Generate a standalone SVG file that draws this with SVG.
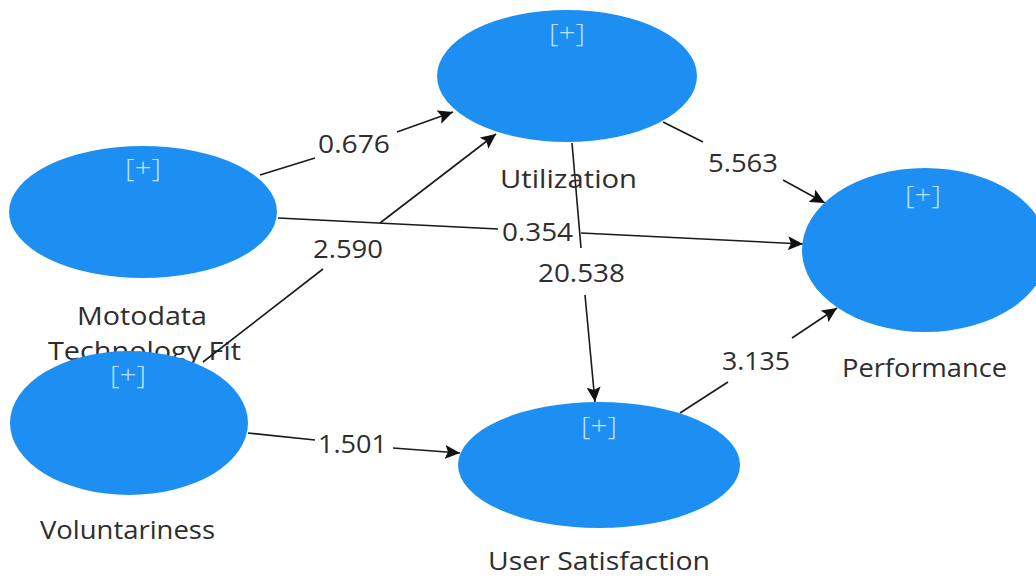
<svg xmlns="http://www.w3.org/2000/svg" width="1036" height="578" viewBox="0 0 1036 578">
<defs>
<style>
.node{fill:#1e8ff2;}
.plus{font-family:"Open Sans","Noto Sans",sans-serif;font-size:25px;fill:#b8e4ff;text-anchor:middle;font-weight:300;}
.lbl{font-family:"Open Sans","Noto Sans",sans-serif;font-size:25px;fill:#2e2e2e;text-anchor:middle;}
.num{font-family:"Open Sans","Noto Sans",sans-serif;font-size:26px;fill:#2e2e2e;text-anchor:middle;}
.ln{stroke:#1a1a1a;stroke-width:1.6;fill:none;}
</style>
<marker id="arr" markerUnits="userSpaceOnUse" markerWidth="16" markerHeight="14" refX="15" refY="7" orient="auto">
<path d="M0,0 L15,7 L0,14 L3,7 Z" fill="#111111"/>
</marker>
</defs>
<rect width="1036" height="578" fill="#ffffff"/>
<g id="node-motodata">
<ellipse class="node" cx="143" cy="212" rx="134" ry="66"/>
<text class="plus" x="143" y="177" textLength="36" lengthAdjust="spacingAndGlyphs">[+]</text>
<text class="lbl" x="142" y="325" textLength="130" lengthAdjust="spacingAndGlyphs">Motodata</text>
<text class="lbl" x="144.5" y="360" textLength="193" lengthAdjust="spacingAndGlyphs">Technology Fit</text>
</g>
<g id="connectors">
<path class="ln" d="M260,175 L315,158"/>
<path class="ln" d="M397,132 L453,112" marker-end="url(#arr)"/>
<text class="num" x="354" y="153" textLength="72" lengthAdjust="spacingAndGlyphs">0.676</text>
<path class="ln" d="M278,218 L498,229"/>
<path class="ln" d="M581,233 L803,244" marker-end="url(#arr)"/>
<text class="num" x="537.5" y="241" textLength="71" lengthAdjust="spacingAndGlyphs">0.354</text>
<path class="ln" d="M203,362 L323,269"/>
<path class="ln" d="M380,223 L496,134" marker-end="url(#arr)"/>
<text class="num" x="348" y="258" textLength="70" lengthAdjust="spacingAndGlyphs">2.590</text>
<path class="ln" d="M663,122 L703,142"/>
<path class="ln" d="M783,180 L825,203" marker-end="url(#arr)"/>
<text class="num" x="743" y="172" textLength="70" lengthAdjust="spacingAndGlyphs">5.563</text>
<path class="ln" d="M572,143 L581,248"/>
<path class="ln" d="M585,295 L595,402" marker-end="url(#arr)"/>
<text class="num" x="581.5" y="282" textLength="87" lengthAdjust="spacingAndGlyphs">20.538</text>
<path class="ln" d="M248,433 L315,440"/>
<path class="ln" d="M393,448 L460,453" marker-end="url(#arr)"/>
<text class="num" x="352.5" y="453" textLength="69" lengthAdjust="spacingAndGlyphs">1.501</text>
<path class="ln" d="M680,413 L728,382"/>
<path class="ln" d="M792,338 L837,308" marker-end="url(#arr)"/>
<text class="num" x="756" y="370" textLength="68" lengthAdjust="spacingAndGlyphs">3.135</text>
</g>
<g id="node-utilization">
<ellipse class="node" cx="567" cy="76" rx="130" ry="66"/>
<text class="plus" x="567" y="42" textLength="36" lengthAdjust="spacingAndGlyphs">[+]</text>
<text class="lbl" x="568.5" y="188" textLength="137" lengthAdjust="spacingAndGlyphs">Utilization</text>
</g>
<g id="node-performance">
<ellipse class="node" cx="925" cy="250" rx="123" ry="82"/>
<text class="plus" x="923" y="204" textLength="36" lengthAdjust="spacingAndGlyphs">[+]</text>
<text class="lbl" x="924.5" y="377" textLength="165" lengthAdjust="spacingAndGlyphs">Performance</text>
</g>
<g id="node-user-satisfaction">
<ellipse class="node" cx="599" cy="465" rx="141" ry="63"/>
<text class="plus" x="599" y="435" textLength="36" lengthAdjust="spacingAndGlyphs">[+]</text>
<text class="lbl" x="599" y="570" textLength="222" lengthAdjust="spacingAndGlyphs">User Satisfaction</text>
</g>
<g id="node-voluntariness">
<ellipse class="node" cx="129" cy="423" rx="119" ry="72"/>
<text class="plus" x="128" y="384" textLength="36" lengthAdjust="spacingAndGlyphs">[+]</text>
<text class="lbl" x="127.5" y="539" textLength="175" lengthAdjust="spacingAndGlyphs">Voluntariness</text>
</g>
</svg>
